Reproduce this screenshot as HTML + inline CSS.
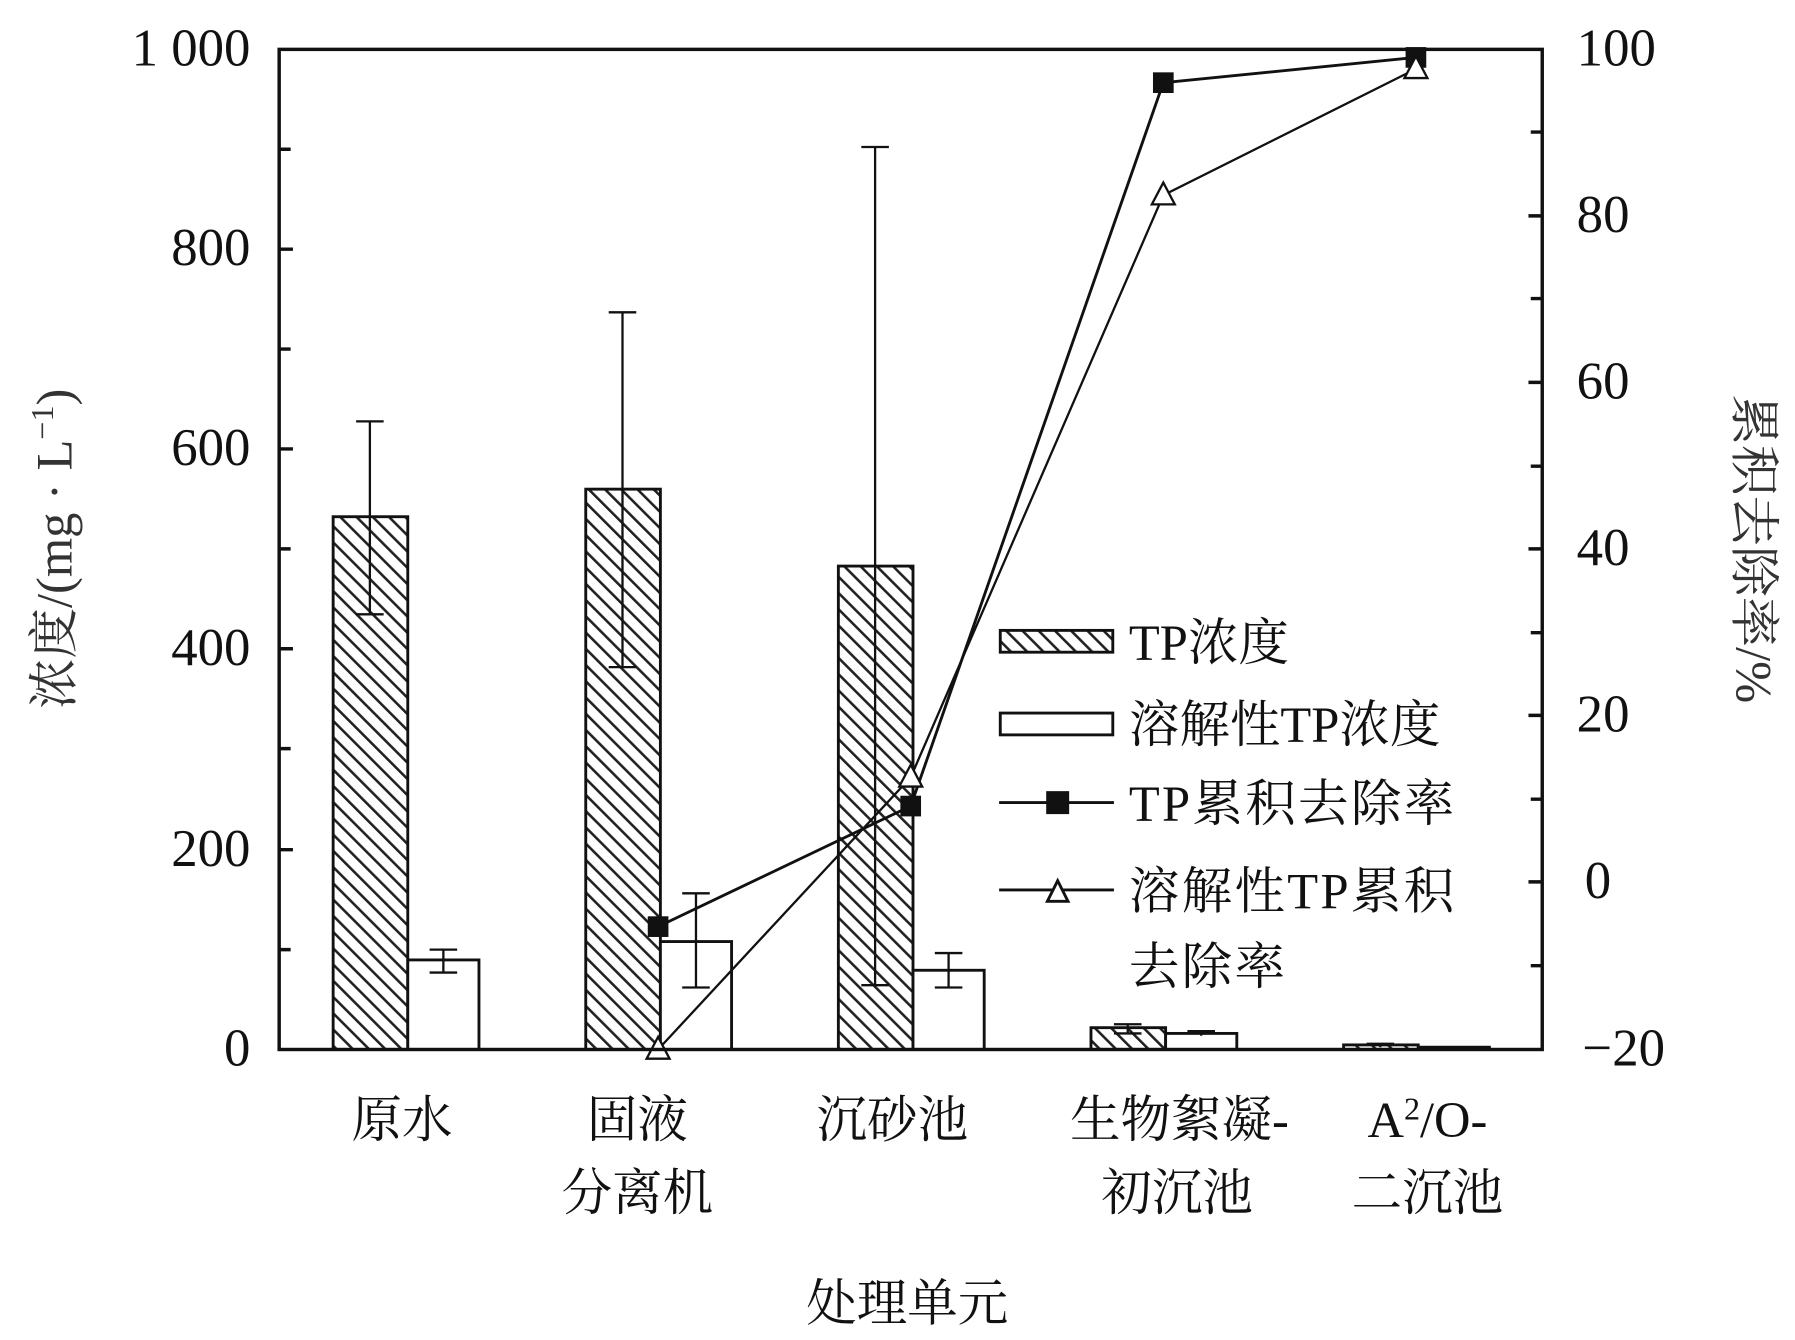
<!DOCTYPE html>
<html><head><meta charset="utf-8"><style>
html,body{margin:0;padding:0;background:#fff;}
svg{display:block;}
text{font-family:"Liberation Serif","Times New Roman","Noto Serif CJK SC",serif;fill:#111;}
</style></head><body>
<svg width="1795" height="1340" viewBox="0 0 1563 1167" xmlns="http://www.w3.org/2000/svg">
<defs>
<pattern id="h" patternUnits="userSpaceOnUse" width="10" height="10" patternTransform="rotate(-45)">
<rect width="10" height="10" fill="#fff"/>
<line x1="0" y1="0" x2="0" y2="10" stroke="#222" stroke-width="4.5"/>
</pattern>
</defs>
<g stroke="#111" stroke-width="2.5">
<rect x="290" y="450" width="65" height="464" fill="url(#h)"/>
<rect x="355" y="836" width="62" height="78" fill="#fff"/>
<rect x="510" y="426" width="65" height="488" fill="url(#h)"/>
<rect x="575" y="820" width="62" height="94" fill="#fff"/>
<rect x="730" y="493" width="65" height="421" fill="url(#h)"/>
<rect x="795" y="845" width="62" height="69" fill="#fff"/>
<rect x="950" y="895" width="65" height="19" fill="url(#h)"/>
<rect x="1015" y="900" width="62" height="14" fill="#fff"/>
<rect x="1170" y="910" width="65" height="4" fill="url(#h)"/>
<rect x="1235" y="912" width="62" height="2" fill="#fff"/>
</g>
<g stroke="#111" stroke-width="2" fill="none">
<path d="M322 367V535M310 367H334M310 535H334"/>
<path d="M386 827V847M374 827H398M374 847H398"/>
<path d="M542 272V581M530 272H554M530 581H554"/>
<path d="M606 778V860M594 778H618M594 860H618"/>
<path d="M762 128V858M750 128H774M750 858H774"/>
<path d="M826 830V860M814 830H838M814 860H838"/>
<path d="M982 892V900M970 892H994M970 900H994"/>
<path d="M1046 898V902M1034 898H1058"/>
<path d="M1202 909V912M1190 909H1214"/>
</g>
<polyline points="573,807 793,702 1013,72 1233,50" fill="none" stroke="#111" stroke-width="2.5"/>
<polyline points="573,914 793,677 1013,170 1233,60" fill="none" stroke="#111" stroke-width="2"/>
<g fill="#111">
<rect x="564" y="798" width="18" height="18"/><rect x="784" y="693" width="18" height="18"/>
<rect x="1004" y="63" width="18" height="18"/><rect x="1224" y="41" width="18" height="18"/>
</g>
<g fill="#fff" stroke="#111" stroke-width="2">
<polygon points="573,903 563,922 583,922"/><polygon points="793,666 783,685 803,685"/>
<polygon points="1013,159 1003,178 1023,178"/><polygon points="1233,49 1223,68 1243,68"/>
</g>
<rect x="243" y="43" width="1100" height="871" fill="none" stroke="#111" stroke-width="3"/>
<g stroke="#111" stroke-width="3">
<path d="M243 130H253M243 217H255M243 304H253M243 391H255M243 478H253M243 565H255M243 652H253M243 740H255M243 827H253"/>
<path d="M1343 115H1333M1343 188H1331M1343 260H1333M1343 333H1331M1343 406H1333M1343 478H1331M1343 551H1333M1343 623H1331M1343 696H1333M1343 768H1331M1343 841H1333"/>
</g>
<g font-size="46" text-anchor="end">
<text x="218" y="57">1 000</text><text x="218" y="231">800</text><text x="218" y="405">600</text>
<text x="218" y="579">400</text><text x="218" y="754">200</text><text x="218" y="928">0</text>
</g>
<g font-size="46">
<text x="1373" y="57">100</text><text x="1373" y="202">80</text><text x="1373" y="347">60</text>
<text x="1373" y="492">40</text><text x="1373" y="637">20</text><text x="1380" y="782">0</text>
<text x="1378" y="928">−20</text>
</g>
<text transform="translate(62,478) rotate(-90)" font-size="44" text-anchor="middle" style="fill:#333">浓度/(mg · L<tspan dy="-16" font-size="28">−1</tspan><tspan dy="16">)</tspan></text>
<text transform="translate(1512,478) rotate(90)" font-size="44" text-anchor="middle" style="fill:#333">累积去除率/%</text>
<g font-size="44" text-anchor="middle">
<text x="350" y="990">原水</text>
<text x="555" y="990">固液</text><text x="555" y="1054">分离机</text>
<text x="777" y="990">沉砂池</text>
<text x="1027" y="990">生物絮凝-</text><text x="1025" y="1054">初沉池</text>
<text x="1243" y="990">A<tspan dy="-15" font-size="28">2</tspan><tspan dy="15">/O-</tspan></text><text x="1243" y="1054">二沉池</text>
<text x="790" y="1150">处理单元</text>
</g>
<rect x="871" y="549" width="98" height="19" fill="url(#h)" stroke="#111" stroke-width="2.5"/>
<rect x="871" y="621" width="98" height="19" fill="#fff" stroke="#111" stroke-width="2.5"/>
<path d="M870 699H970M870 775H970" stroke="#111" stroke-width="2.5"/>
<rect x="911" y="689" width="20" height="20" fill="#111"/>
<polygon points="921,767 912,785 930,785" fill="#fff" stroke="#111" stroke-width="2.5"/>
<g font-size="44">
<text x="983" y="575">TP浓度</text>
<text x="983" y="646">溶解性TP浓度</text>
<text x="983" y="715" letter-spacing="2">TP累积去除率</text>
<text x="983" y="791" letter-spacing="2">溶解性TP累积</text>
<text x="983" y="857" letter-spacing="2">去除率</text>
</g>
</svg>
</body></html>
